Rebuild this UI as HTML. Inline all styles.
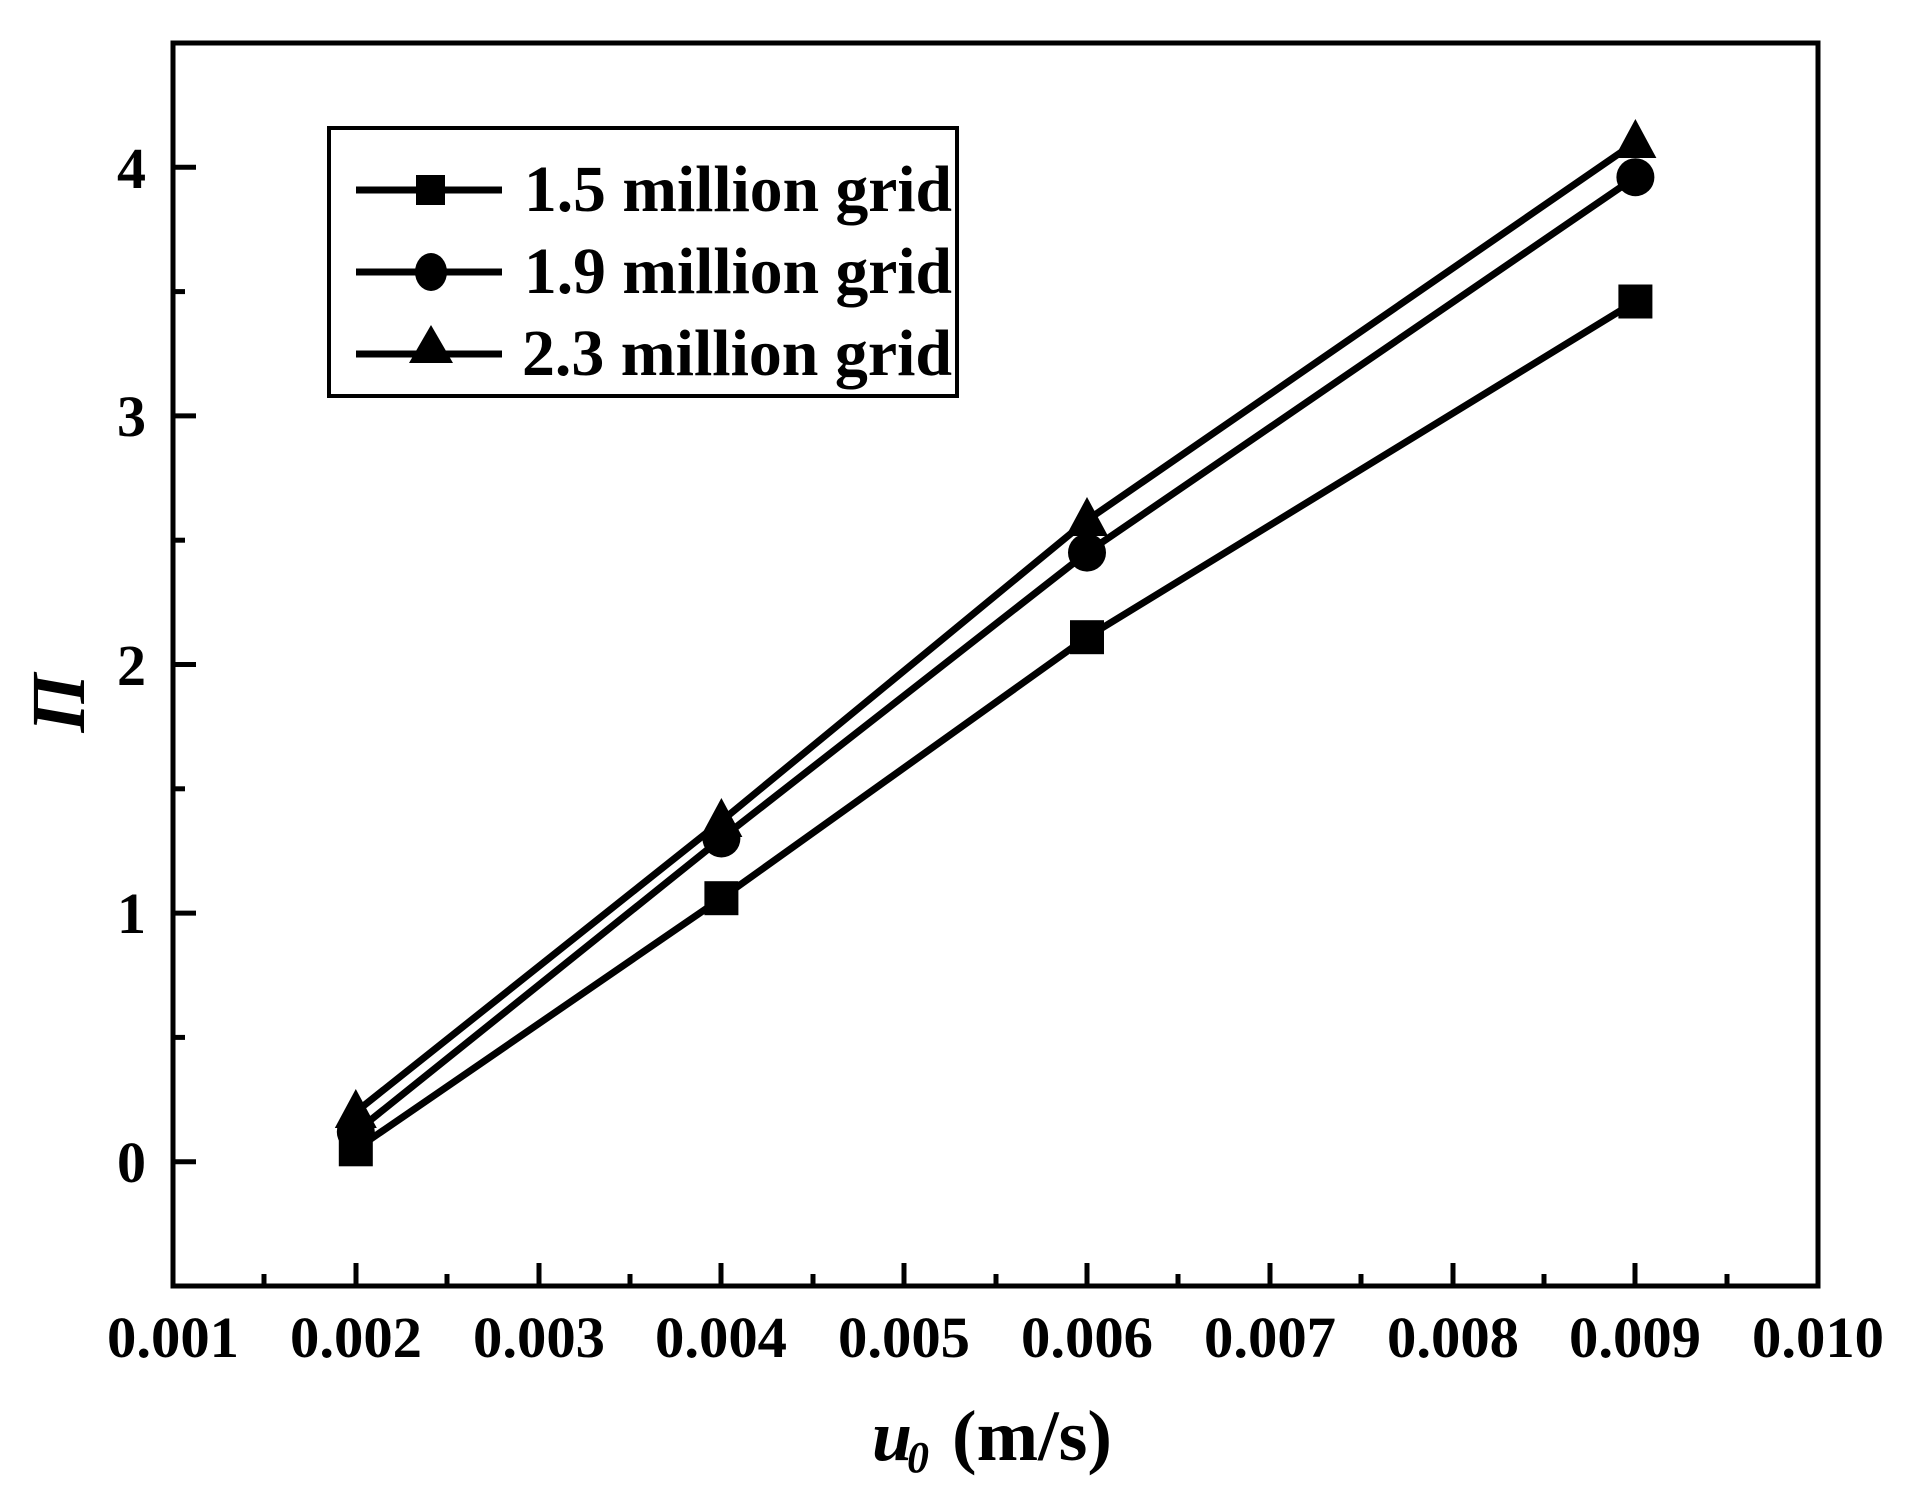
<!DOCTYPE html>
<html><head><meta charset="utf-8"><style>
html,body{margin:0;padding:0;background:#fff;}
svg{display:block;}
text{font-family:"Liberation Serif","Times New Roman",serif;font-weight:bold;fill:#000;}
</style></head><body>
<svg width="1909" height="1489" viewBox="0 0 1909 1489" xmlns="http://www.w3.org/2000/svg">
<rect x="173" y="43" width="1645" height="1243" fill="none" stroke="#000" stroke-width="5"/>
<g stroke="#000" stroke-width="5">
<line x1="356" y1="1286" x2="356" y2="1263"/>
<line x1="539" y1="1286" x2="539" y2="1263"/>
<line x1="721" y1="1286" x2="721" y2="1263"/>
<line x1="904" y1="1286" x2="904" y2="1263"/>
<line x1="1087" y1="1286" x2="1087" y2="1263"/>
<line x1="1270" y1="1286" x2="1270" y2="1263"/>
<line x1="1453" y1="1286" x2="1453" y2="1263"/>
<line x1="1635" y1="1286" x2="1635" y2="1263"/>
<line x1="264" y1="1286" x2="264" y2="1274"/>
<line x1="447" y1="1286" x2="447" y2="1274"/>
<line x1="630" y1="1286" x2="630" y2="1274"/>
<line x1="813" y1="1286" x2="813" y2="1274"/>
<line x1="996" y1="1286" x2="996" y2="1274"/>
<line x1="1178" y1="1286" x2="1178" y2="1274"/>
<line x1="1361" y1="1286" x2="1361" y2="1274"/>
<line x1="1544" y1="1286" x2="1544" y2="1274"/>
<line x1="1727" y1="1286" x2="1727" y2="1274"/>
<line x1="173" y1="1161.7" x2="196" y2="1161.7"/>
<line x1="173" y1="913.1" x2="196" y2="913.1"/>
<line x1="173" y1="664.5" x2="196" y2="664.5"/>
<line x1="173" y1="415.9" x2="196" y2="415.9"/>
<line x1="173" y1="167.3" x2="196" y2="167.3"/>
<line x1="173" y1="1037.4" x2="185" y2="1037.4"/>
<line x1="173" y1="788.8" x2="185" y2="788.8"/>
<line x1="173" y1="540.2" x2="185" y2="540.2"/>
<line x1="173" y1="291.6" x2="185" y2="291.6"/>
</g>
<g font-size="58" text-anchor="end">
<text x="146" y="1182">0</text>
<text x="146" y="933">1</text>
<text x="146" y="685">2</text>
<text x="146" y="436">3</text>
<text x="146" y="188">4</text>
</g>
<g font-size="58" text-anchor="middle">
<text x="173" y="1357" textLength="132" lengthAdjust="spacingAndGlyphs">0.001</text>
<text x="356" y="1357" textLength="132" lengthAdjust="spacingAndGlyphs">0.002</text>
<text x="539" y="1357" textLength="132" lengthAdjust="spacingAndGlyphs">0.003</text>
<text x="721" y="1357" textLength="132" lengthAdjust="spacingAndGlyphs">0.004</text>
<text x="904" y="1357" textLength="132" lengthAdjust="spacingAndGlyphs">0.005</text>
<text x="1087" y="1357" textLength="132" lengthAdjust="spacingAndGlyphs">0.006</text>
<text x="1270" y="1357" textLength="132" lengthAdjust="spacingAndGlyphs">0.007</text>
<text x="1453" y="1357" textLength="132" lengthAdjust="spacingAndGlyphs">0.008</text>
<text x="1635" y="1357" textLength="132" lengthAdjust="spacingAndGlyphs">0.009</text>
<text x="1818" y="1357" textLength="132" lengthAdjust="spacingAndGlyphs">0.010</text>
</g>
<text x="872" y="1460" font-size="72" font-style="italic">u</text>
<text x="907" y="1472" font-size="44" font-style="italic">0</text>
<text x="952" y="1460" font-size="72" textLength="160" lengthAdjust="spacingAndGlyphs">(m/s)</text>
<text transform="translate(84,703) rotate(-90)" font-size="76" font-style="italic" text-anchor="middle">Π</text>
<g stroke="#000" stroke-width="7" fill="none">
<polyline points="355.8,1149.3 721.4,898.2 1087,637.2 1635.4,301.5"/>
<polyline points="355.8,1131.9 721.4,838.5 1087,552.6 1635.4,177.2"/>
<polyline points="355.8,1112 721.4,821.1 1087,520.3 1635.4,142.4"/>
</g>
<g fill="#000">
<rect x="338.8" y="1132.3" width="34" height="34"/>
<rect x="704.4" y="881.2" width="34" height="34"/>
<rect x="1070" y="620.2" width="34" height="34"/>
<rect x="1618.4" y="284.5" width="34" height="34"/>
<circle cx="355.8" cy="1131.9" r="19"/>
<circle cx="721.4" cy="838.5" r="19"/>
<circle cx="1087" cy="552.6" r="19"/>
<circle cx="1635.4" cy="177.2" r="19"/>
<polygon points="355.8,1089 334.8,1128 376.8,1128"/>
<polygon points="721.4,798 700.4,837 742.4,837"/>
<polygon points="1087,497 1066,536 1108,536"/>
<polygon points="1635.4,119 1614.4,158 1656.4,158"/>
</g>
<rect x="329" y="128" width="628" height="268" fill="#fff" stroke="#000" stroke-width="4"/>
<g stroke="#000" stroke-width="7">
<line x1="356" y1="190" x2="502" y2="190"/>
<line x1="356" y1="272" x2="502" y2="272"/>
<line x1="356" y1="354" x2="502" y2="354"/>
</g>
<rect x="416" y="175" width="29" height="30" fill="#000"/>
<ellipse cx="431" cy="272" rx="16" ry="19" fill="#000"/>
<polygon points="431,325 409,363 453,363" fill="#000"/>
<g font-size="66">
<text x="524" y="211" textLength="428" lengthAdjust="spacingAndGlyphs">1.5 million grid</text>
<text x="524" y="293" textLength="428" lengthAdjust="spacingAndGlyphs">1.9 million grid</text>
<text x="522" y="375" textLength="430" lengthAdjust="spacingAndGlyphs">2.3 million grid</text>
</g>
</svg>
</body></html>
